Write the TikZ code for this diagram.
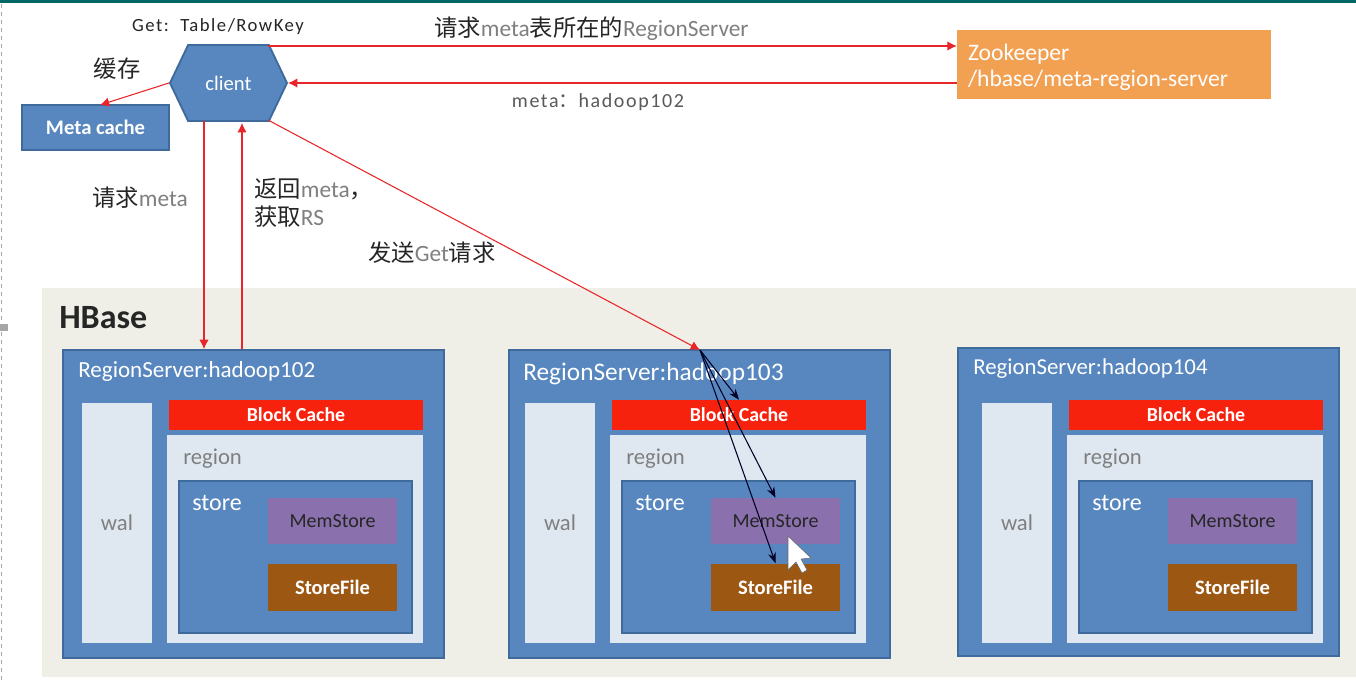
\documentclass[tikz,border=0pt]{standalone}
\usepackage{fontspec}
\setmainfont{Carlito}
\newfontfamily\cjk{Noto Sans CJK SC}
\newfontfamily\spaced[LetterSpace=8]{Carlito}
\usepackage{tikz}
\usetikzlibrary{shapes.symbols, arrows.meta, positioning}
\definecolor{boxblue}{HTML}{5787BE}
\definecolor{edgeblue}{HTML}{3E6A9C}
\definecolor{lightblue}{HTML}{DFE8F1}
\definecolor{cachered}{HTML}{F7220E}
\definecolor{memviolet}{HTML}{8A70AC}
\definecolor{filebrown}{HTML}{9C5713}
\definecolor{zkorange}{HTML}{F2A052}
\definecolor{hbasebg}{HTML}{EFEFE7}
\definecolor{arrowred}{HTML}{E8262A}
\definecolor{txtgray}{HTML}{7F7F7F}
\tikzstyle{blue box} = [rectangle, draw=edgeblue, fill=boxblue, line width=1.4pt, inner sep=0pt, text=white]
\tikzstyle{server} = [blue box, minimum width=285.75pt, minimum height=231pt]
\tikzstyle{metabox} = [blue box, minimum width=110.25pt, minimum height=33.75pt, font=\fontsize{15.5}{18}\selectfont\bfseries]
\tikzstyle{clientbox} = [signal, signal to=west and east, signal pointer angle=129, fill=boxblue, draw=edgeblue, line width=1.4pt, inner sep=0pt, minimum width=87.75pt, minimum height=57pt, text=white, font=\fontsize{15.5}{18}\selectfont]
\tikzstyle{zkbox} = [rectangle, fill=zkorange, minimum width=235.5pt, minimum height=51.75pt, inner sep=0pt]
\tikzstyle{walbox} = [rectangle, fill=lightblue, minimum width=52.5pt, minimum height=180pt, inner sep=0pt, text=txtgray, font=\fontsize{17}{20}\selectfont]
\tikzstyle{cachebox} = [rectangle, fill=cachered, minimum width=190.5pt, minimum height=22.5pt, inner sep=0pt, text=white, font=\fontsize{14.9}{17}\selectfont\bfseries]
\tikzstyle{regionbox} = [rectangle, fill=lightblue, minimum width=192pt, minimum height=156pt, inner sep=0pt]
\tikzstyle{storebox} = [blue box, minimum width=174.75pt, minimum height=114pt]
\tikzstyle{membox} = [rectangle, fill=memviolet, minimum width=96.75pt, minimum height=34.5pt, inner sep=0pt, text=black!85, font=\fontsize{15}{18}\selectfont]
\tikzstyle{filebox} = [rectangle, fill=filebrown, minimum width=96.75pt, minimum height=35.25pt, inner sep=0pt, text=white, font=\fontsize{15.4}{18}\selectfont\bfseries]
\tikzstyle{note} = [inner sep=0pt, font=\fontsize{17.5}{21}\selectfont, text=black!85]
\tikzstyle{redarrow} = [color=arrowred, line width=0.8pt, -{Latex[length=7pt,width=7pt]}]
\tikzstyle{blackarrow} = [color=black!85!blue, line width=0.8pt, -{Stealth[length=8pt,width=6pt]}]
\begin{document}
\begin{tikzpicture}[x=0.75pt,y=-0.75pt]
    \useasboundingbox (0,0) rectangle (1356,682);
    \fill[white] (0,0) rectangle (1356,682);
    \fill[teal!80!black] (0,0) rectangle (1356,2.5);
    \draw[gray!70,dashed,line width=0.6pt] (1,4) -- (1,682);
    \fill[gray!70] (0,324) rectangle (8,331);
    \fill[hbasebg] (42,288) rectangle (1356,677);
    \node[note,anchor=west,font=\fontsize{25.5}{28}\selectfont\bfseries] (hbase) at (59,318) {HBase};
    % the three servers
    \foreach \h/\dx/\fx/\fy/\lx/\ly/\ls in {102/0/253.5/504/78/371/17.3,103/443/699.5/504/523/374/19,104/900/1148.5/502/973/369/17.1} {
        \node[server] (rs\h) at (\fx,\fy) {};
        \node[anchor=west,inner sep=0pt,text=white,font=\fontsize{\ls}{20}\selectfont] (rslabel\h) at (\lx,\ly) {RegionServer:hadoop\h};
        \node[walbox] (wal\h) at (117+\dx,523) {wal};
        \node[regionbox] (region\h) at (295+\dx,539) {};
        \node[cachebox] (cache\h) at (296+\dx,415) {Block Cache};
        \node[anchor=west,inner sep=0pt,text=txtgray,font=\fontsize{17}{20}\selectfont] (regionlabel\h) at (183+\dx,459) {region};
        \node[storebox] (store\h) at (295.5+\dx,557) {};
        \node[anchor=west,inner sep=0pt,text=white,font=\fontsize{18}{20}\selectfont] (storelabel\h) at (192+\dx,503) {store};
        \node[membox] (mem\h) at (332.5+\dx,521) {MemStore};
        \node[filebox] (file\h) at (332.5+\dx,587) {StoreFile};
    }
    \node[clientbox] (client) at (228.5,83) {client};
    \node[metabox] (meta) at (95.5,127.5) {Meta cache};
    \node[zkbox,align=left,text=white,text width=219pt,font=\fontsize{17.7}{19.5}\selectfont] (zk) at (1114,64.5) {\rule{0pt}{16pt}Zookeeper\\/hbase/meta-region-server};
    \coordinate (top) at (268,46);
    \coordinate (low) at (268,120);
    \coordinate (down) at (204,121);
    \coordinate (up) at (242,123);
    \coordinate (hit) at (700,350);
    \draw[redarrow] (top) -- (top -| zk.west);
    \draw[redarrow] (zk.west |- client.east) -- (client.east);
    \draw[redarrow] (client.west) -- (100,105);
    \draw[redarrow] (down) -- (down |- rs102.north);
    \draw[redarrow] (up |- rs102.north) -- (up);
    \draw[redarrow] (low) -- (hit);
    \draw[blackarrow] (hit) -- (cache103.north);
    \draw[blackarrow] (hit) -- (mem103.north);
    \draw[blackarrow] (hit) -- (file103.north);
    % labels
    \node[note,font=\spaced\fontsize{14}{16}\selectfont] (getlabel) at (218,27) {Get:\ \ Table/RowKey};
    \node[note,anchor=west] (asklabel) at (434,29) {{\cjk 请求}{\color{txtgray}meta}{\cjk 表所在的}{\color{txtgray}RegionServer}};
    \node[note,font=\spaced\fontsize{15}{18}\selectfont,text=txtgray!70!black] (metalabel) at (598,102) {meta{\cjk ：}hadoop102};
    \node[note] (cachelabel) at (117,69) {\cjk 缓存};
    \node[note,anchor=west] (reqlabel) at (92,198) {{\cjk 请求}{\color{txtgray}meta}};
    \node[note,anchor=west,align=left] (backlabel) at (254,203) {{\cjk 返回}{\color{txtgray}meta}{\cjk ，}\\{\cjk 获取}{\color{txtgray}RS}};
    \node[note,anchor=west] (sendlabel) at (368,253) {{\cjk 发送}{\color{txtgray}Get}{\cjk 请求}};
    % mouse pointer
    \draw[black!60,fill=white,line width=0.4pt] (788,536) -- (788,570) -- (796,562) -- (802,573) -- (807,570) -- (801,559) -- (811,558) -- cycle;
\end{tikzpicture}
\end{document}
